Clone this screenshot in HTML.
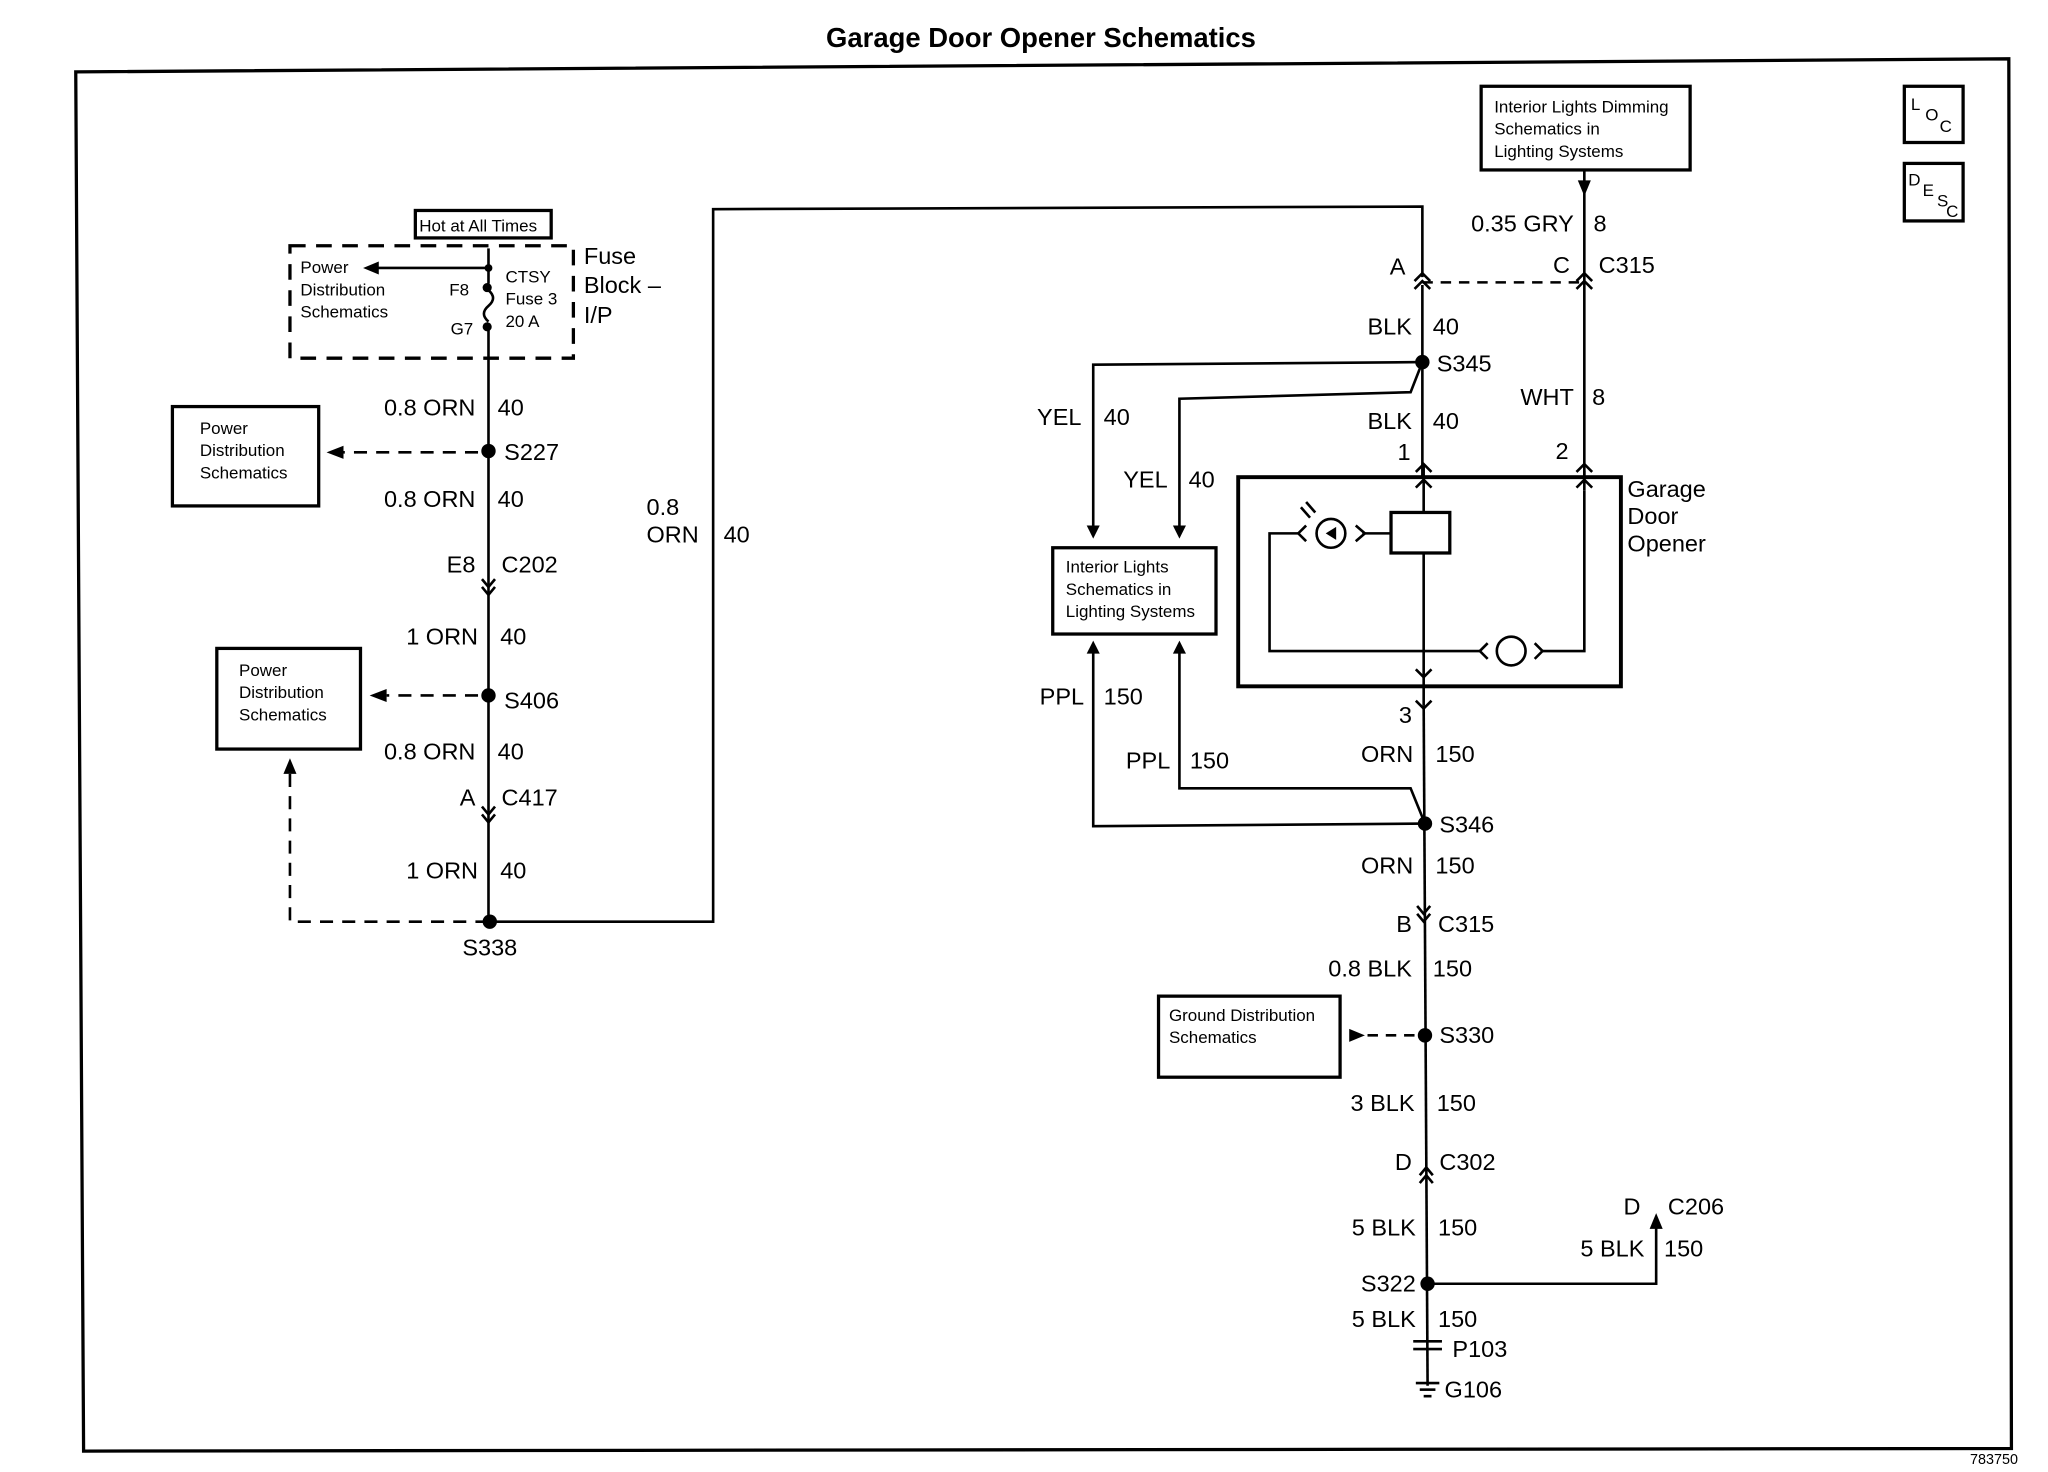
<!DOCTYPE html>
<html><head><meta charset="utf-8"><style>
html,body{margin:0;padding:0;background:#fff}
svg{display:block}
text{font-family:"Liberation Sans",Arial,sans-serif;fill:#000}
.l{font-size:18px}
.s{font-size:13px}
</style></head><body>
<svg width="2048" height="1472" viewBox="0 0 1568 1126" preserveAspectRatio="none" xmlns="http://www.w3.org/2000/svg">
<rect width="1568" height="1126" fill="#fff"/>
<text x="797" y="36" text-anchor="middle" font-size="21" font-weight="bold">Garage Door Opener Schematics</text>
<polygon points="58,55 1538,45 1540,1108 64,1110" fill="none" stroke="#000" stroke-width="2.5"/>
<text x="1545" y="1120" text-anchor="end" font-size="11">783750</text>
<g fill="none" stroke="#000" stroke-width="2.5">
<rect x="1458" y="66" width="45" height="43"/>
<rect x="1458" y="125" width="45" height="44"/>
</g>
<text x="1463" y="84" class="s">L</text><text x="1474" y="92" class="s">O</text><text x="1485" y="101" class="s">C</text>
<text x="1461" y="142" class="s">D</text><text x="1472" y="150" class="s">E</text><text x="1483" y="158" class="s">S</text><text x="1490" y="166" class="s">C</text>

<g stroke="#000" stroke-width="2" fill="none">
<line x1="374" y1="190" x2="374" y2="217"/>
<path d="M374,222 q7,6 0,12 q-7,6 0,12"/>
<line x1="374" y1="250" x2="374" y2="705"/>
<rect x="318" y="161" width="104" height="21" stroke-width="2.5"/>
<rect x="222" y="188" width="217" height="86" stroke-dasharray="12,8" stroke-width="2.5"/>
<line x1="374" y1="205" x2="288" y2="205"/>
<polyline points="369,443 374,449 379,443"/><polyline points="369,449 374,455 379,449"/>
<polyline points="369,617 374,623 379,617"/><polyline points="369,623 374,629 379,623"/>
<line x1="366" y1="346" x2="262" y2="346" stroke-dasharray="10,7"/>
<line x1="366" y1="532" x2="296" y2="532" stroke-dasharray="10,7"/>
<polyline points="374,705 222,705 222,592" stroke-dasharray="10,7"/>
<rect x="132" y="311" width="112" height="76" stroke-width="2.5"/>
<rect x="166" y="496" width="110" height="77" stroke-width="2.5"/>
<polyline points="374,705 546,705 546,160 1089,158 1089,212"/>
<line x1="1089" y1="218" x2="1089" y2="365"/>
<polyline points="1083,215 1089,209 1095,215"/><polyline points="1083,221 1089,215 1095,221"/>
<line x1="1089" y1="216" x2="1213" y2="216" stroke-dasharray="8,6"/>
<line x1="1213" y1="130" x2="1213" y2="365"/>
<polyline points="1207,215 1213,209 1219,215"/><polyline points="1207,221 1213,215 1219,221"/>
<rect x="1134" y="66" width="160" height="64" stroke-width="2.5"/>
<polyline points="1089,277 837,279 837,404"/>
<polyline points="1089,277 1080,300 903,305 903,404"/>
<rect x="806" y="419" width="125" height="66" stroke-width="2.5"/>
<polyline points="837,498 837,632 1091,630"/>
<polyline points="903,498 903,603 1080,603 1091,630"/>
<rect x="948" y="365" width="293" height="160" stroke-width="3"/>
<line x1="1090" y1="355" x2="1090" y2="392"/>
<polyline points="1084,361 1090,355 1096,361"/><polyline points="1084,373 1090,367 1096,373"/>
<line x1="1213" y1="360" x2="1213" y2="375"/>
<polyline points="1207,361 1213,355 1219,361"/><polyline points="1207,373 1213,367 1219,373"/>
<rect x="1065" y="392" width="45" height="31" stroke-width="2.5"/>
<line x1="1090" y1="423" x2="1090" y2="540"/>
<polyline points="1084,512 1090,518 1096,512"/><polyline points="1084,536 1090,542 1096,536"/>
<polyline points="1065,408 1043,408"/><polyline points="1038,402 1045,408 1038,414"/>
<circle cx="1019" cy="408" r="11"/>
<polyline points="1000,402 994,408 1000,414"/>
<polyline points="994,408 972,408 972,498 1133,498"/>
<polyline points="1139,492 1133,498 1139,504"/>
<circle cx="1157" cy="498" r="11"/>
<polyline points="1175,492 1181,498 1175,504"/>
<polyline points="1181,498 1213,498 1213,375"/>
<line x1="1007" y1="392" x2="1000" y2="384"/><line x1="1003" y1="396" x2="996" y2="388"/>
<line x1="1090" y1="540" x2="1093" y2="1060"/>
<polyline points="1085,693 1090,699 1095,693"/><polyline points="1085,699 1090,705 1095,699"/>
<polyline points="1087,899 1092,893 1097,899"/><polyline points="1087,905 1092,899 1097,905"/>
<line x1="1083" y1="792" x2="1045" y2="792" stroke-dasharray="8,6"/>
<rect x="887" y="762" width="139" height="62" stroke-width="2.5"/>
<polyline points="1093,982 1268,982 1268,938"/>
<line x1="1082" y1="1026" x2="1104" y2="1026"/><line x1="1082" y1="1032" x2="1104" y2="1032"/>
<line x1="1084" y1="1058" x2="1102" y2="1058"/><line x1="1087" y1="1063" x2="1099" y2="1063"/><line x1="1090" y1="1068" x2="1096" y2="1068"/>
</g>
<g fill="#000">
<polygon points="278,205 290,200 290,210"/>
<polygon points="250,346 263,341 263,351"/>
<polygon points="283,532 296,527 296,537"/>
<polygon points="222,580 217,592 227,592"/>
<polygon points="837,412 832,402 842,402"/>
<polygon points="903,412 898,402 908,402"/>
<polygon points="837,490 832,500 842,500"/>
<polygon points="903,490 898,500 908,500"/>
<polygon points="1213,150 1208,138 1218,138"/>
<polygon points="1045,792 1033,787 1033,797"/>
<polygon points="1268,928 1263,940 1273,940"/>
<circle cx="374" cy="205" r="3"/><circle cx="373" cy="220" r="3.5"/><circle cx="373" cy="250" r="3.5"/>
<circle cx="374" cy="345" r="5.5"/><circle cx="374" cy="532" r="5.5"/><circle cx="375" cy="705" r="5.5"/>
<circle cx="1089" cy="277" r="5.5"/><circle cx="1091" cy="630" r="5.5"/><circle cx="1091" cy="792" r="5.5"/><circle cx="1093" cy="982" r="5.5"/>
<polygon points="1015,408 1023,403 1023,413"/>
</g>
<text x="321" y="177" font-size="13">Hot at All Times</text>
<text x="230" y="209" class="s">Power</text><text x="230" y="226" class="s">Distribution</text><text x="230" y="243" class="s">Schematics</text>
<text x="344" y="226" class="s">F8</text><text x="345" y="256" class="s">G7</text>
<text x="387" y="216" class="s">CTSY</text><text x="387" y="233" class="s">Fuse 3</text><text x="387" y="250" class="s">20 A</text>
<text x="447" y="202" class="l">Fuse</text><text x="447" y="224" class="l">Block –</text><text x="447" y="247" class="l">I/P</text>
<text x="153" y="332" class="s">Power</text><text x="153" y="349" class="s">Distribution</text><text x="153" y="366" class="s">Schematics</text>
<text x="183" y="517" class="s">Power</text><text x="183" y="534" class="s">Distribution</text><text x="183" y="551" class="s">Schematics</text>
<text x="364" y="318" class="l" text-anchor="end">0.8 ORN</text><text x="381" y="318" class="l">40</text>
<text x="386" y="352" class="l">S227</text>
<text x="364" y="388" class="l" text-anchor="end">0.8 ORN</text><text x="381" y="388" class="l">40</text>
<text x="364" y="438" class="l" text-anchor="end">E8</text><text x="384" y="438" class="l">C202</text>
<text x="366" y="493" class="l" text-anchor="end">1 ORN</text><text x="383" y="493" class="l">40</text>
<text x="386" y="542" class="l">S406</text>
<text x="364" y="581" class="l" text-anchor="end">0.8 ORN</text><text x="381" y="581" class="l">40</text>
<text x="364" y="616" class="l" text-anchor="end">A</text><text x="384" y="616" class="l">C417</text>
<text x="366" y="672" class="l" text-anchor="end">1 ORN</text><text x="383" y="672" class="l">40</text>
<text x="354" y="731" class="l">S338</text>
<text x="495" y="394" class="l">0.8</text><text x="495" y="415" class="l">ORN</text><text x="554" y="415" class="l">40</text>
<text x="1144" y="86" class="s">Interior Lights Dimming</text><text x="1144" y="103" class="s">Schematics in</text><text x="1144" y="120" class="s">Lighting Systems</text>
<text x="1205" y="177" class="l" text-anchor="end">0.35 GRY</text><text x="1220" y="177" class="l">8</text>
<text x="1076" y="210" class="l" text-anchor="end">A</text><text x="1202" y="209" class="l" text-anchor="end">C</text><text x="1224" y="209" class="l">C315</text>
<text x="1081" y="256" class="l" text-anchor="end">BLK</text><text x="1097" y="256" class="l">40</text>
<text x="1100" y="284" class="l">S345</text>
<text x="1205" y="310" class="l" text-anchor="end">WHT</text><text x="1219" y="310" class="l">8</text>
<text x="828" y="325" class="l" text-anchor="end">YEL</text><text x="845" y="325" class="l">40</text>
<text x="1081" y="328" class="l" text-anchor="end">BLK</text><text x="1097" y="328" class="l">40</text>
<text x="1080" y="352" class="l" text-anchor="end">1</text><text x="1201" y="351" class="l" text-anchor="end">2</text>
<text x="894" y="373" class="l" text-anchor="end">YEL</text><text x="910" y="373" class="l">40</text>
<text x="1246" y="380" class="l">Garage</text><text x="1246" y="401" class="l">Door</text><text x="1246" y="422" class="l">Opener</text>
<text x="816" y="438" class="s">Interior Lights</text><text x="816" y="455" class="s">Schematics in</text><text x="816" y="472" class="s">Lighting Systems</text>
<text x="830" y="539" class="l" text-anchor="end">PPL</text><text x="845" y="539" class="l">150</text>
<text x="1081" y="553" class="l" text-anchor="end">3</text>
<text x="1082" y="583" class="l" text-anchor="end">ORN</text><text x="1099" y="583" class="l">150</text>
<text x="896" y="588" class="l" text-anchor="end">PPL</text><text x="911" y="588" class="l">150</text>
<text x="1102" y="637" class="l">S346</text>
<text x="1082" y="668" class="l" text-anchor="end">ORN</text><text x="1099" y="668" class="l">150</text>
<text x="1081" y="713" class="l" text-anchor="end">B</text><text x="1101" y="713" class="l">C315</text>
<text x="1081" y="747" class="l" text-anchor="end">0.8 BLK</text><text x="1097" y="747" class="l">150</text>
<text x="895" y="781" class="s">Ground Distribution</text><text x="895" y="798" class="s">Schematics</text>
<text x="1102" y="798" class="l">S330</text>
<text x="1083" y="850" class="l" text-anchor="end">3 BLK</text><text x="1100" y="850" class="l">150</text>
<text x="1081" y="895" class="l" text-anchor="end">D</text><text x="1102" y="895" class="l">C302</text>
<text x="1084" y="945" class="l" text-anchor="end">5 BLK</text><text x="1101" y="945" class="l">150</text>
<text x="1256" y="929" class="l" text-anchor="end">D</text><text x="1277" y="929" class="l">C206</text>
<text x="1259" y="961" class="l" text-anchor="end">5 BLK</text><text x="1274" y="961" class="l">150</text>
<text x="1084" y="988" class="l" text-anchor="end">S322</text>
<text x="1084" y="1015" class="l" text-anchor="end">5 BLK</text><text x="1101" y="1015" class="l">150</text>
<text x="1112" y="1038" class="l">P103</text>
<text x="1106" y="1069" class="l">G106</text>
</svg>
</body></html>
